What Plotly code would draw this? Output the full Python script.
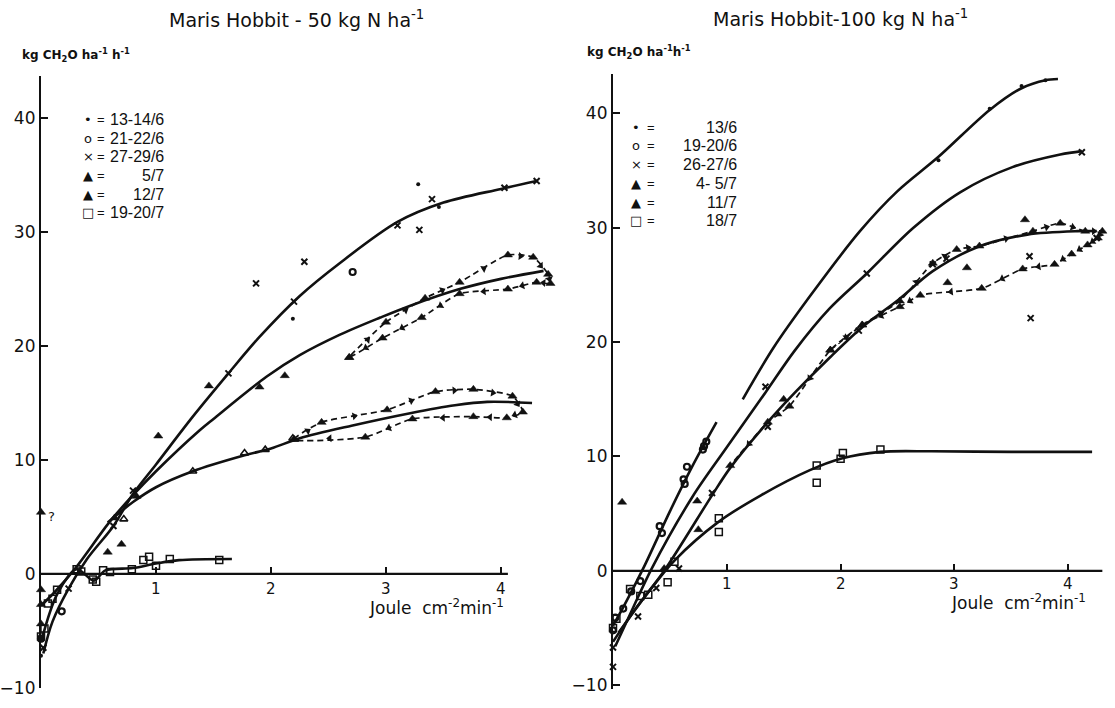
import plotly.graph_objects as go

# ---------------- left panel: 50 kg N ha-1 ----------------
# fitted response curves
l_fit_a_x = [0.02, 0.1, 0.24, 0.4, 0.63, 0.8, 1.0, 1.32, 1.63, 1.9, 2.25, 2.6, 3.1, 3.5, 4.0, 4.31]
l_fit_a_y = [-7.0, -4.2, -1.3, 1.3, 4.2, 7.0, 9.6, 13.8, 17.6, 20.8, 24.4, 27.3, 30.9, 32.6, 33.8, 34.5]
l_fit_b_x = [0.0, 0.12, 0.3, 0.6, 0.8, 1.0, 1.38, 1.5, 1.96, 2.25, 2.6, 2.95, 3.2, 3.64, 4.0, 4.37]
l_fit_b_y = [-2.8, -1.6, 0.5, 4.6, 6.9, 9.0, 12.6, 13.6, 17.3, 19.2, 21.0, 22.5, 23.5, 25.0, 25.9, 26.6]
l_fit_c_x = [0.58, 0.8, 1.0, 1.32, 1.77, 2.0, 2.25, 2.7, 3.21, 3.6, 3.88, 4.27]
l_fit_c_y = [4.5, 6.3, 7.6, 9.0, 10.4, 11.0, 11.9, 13.0, 14.1, 14.8, 15.1, 15.0]
l_fit_d_x = [0.0, 0.14, 0.31, 0.46, 0.56, 0.8, 1.0, 1.2, 1.66]
l_fit_d_y = [-6.0, -1.8, 0.4, -0.6, 0.3, 0.5, 0.9, 1.2, 1.3]

# hysteresis loops (order of measurement)
l_loop_up_x = [2.68, 3.0, 3.34, 3.64, 4.06, 4.28, 4.41, 4.43, 4.31, 4.06, 3.64, 3.31, 2.97, 2.68]
l_loop_up_y = [19.0, 22.1, 24.2, 25.6, 28.0, 27.8, 26.3, 25.5, 25.6, 25.0, 24.6, 22.5, 20.7, 19.0]
l_loop_lo_x = [2.2, 2.44, 3.01, 3.43, 3.76, 4.1, 4.19, 4.05, 3.76, 3.23, 2.82, 2.2]
l_loop_lo_y = [11.8, 13.3, 14.4, 16.0, 16.2, 15.6, 14.2, 13.7, 13.8, 13.6, 12.0, 11.8]

# observations
l_d1_x = [3.28, 3.46, 2.19, 0.0]            # 13-14/6
l_d1_y = [34.2, 32.2, 22.4, -7.2]
l_d2_x = [2.71, 0.18, 0.0]                   # 21-22/6
l_d2_y = [26.5, -3.3, -5.7]
l_d3_x = [0.02, 0.24, 0.63, 0.8, 1.63, 1.87, 2.2, 2.29, 3.1, 3.29, 3.4, 4.03, 4.31]   # 27-29/6
l_d3_y = [-6.5, -1.3, 4.2, 7.3, 17.6, 25.5, 23.9, 27.4, 30.6, 30.2, 32.9, 33.9, 34.5]
l_d4_x = [0.0, 0.0, 0.0, 0.0, 0.58, 0.7, 0.83, 1.02, 1.46, 1.9, 2.12, 0.64]   # 5/7
l_d4_y = [5.4, -1.4, -2.7, -4.4, 1.9, 2.6, 6.8, 12.1, 16.5, 16.4, 17.4, 4.9]
l_d5_x = [0.72, 1.32, 1.77, 1.95, 2.19]     # 12/7
l_d5_y = [4.8, 9.0, 10.6, 10.9, 11.9]
l_d6_x = [0.0, 0.03, 0.06, 0.1, 0.14, 0.31, 0.35, 0.45, 0.48, 0.54, 0.6, 0.79, 0.89, 0.94, 1.0, 1.12, 1.55]   # 19-20/7
l_d6_y = [-5.5, -4.8, -2.6, -2.2, -1.4, 0.4, 0.2, -0.5, -0.7, 0.3, 0.15, 0.4, 1.2, 1.5, 0.7, 1.3, 1.2]

# ---------------- right panel: 100 kg N ha-1 ----------------
r_fit_1_x = [1.14, 1.41, 1.73, 2.17, 2.5, 2.86, 3.31, 3.59, 3.8, 3.91]
r_fit_1_y = [15.0, 19.5, 24.0, 29.7, 33.2, 36.2, 40.3, 42.2, 42.9, 43.0]
r_fit_o_x = [0.0, 0.1, 0.27, 0.5, 0.7, 0.91]
r_fit_o_y = [-4.8, -3.0, 0.3, 5.2, 9.2, 13.0]
r_fit_2_x = [0.02, 0.15, 0.34, 0.7, 1.0, 1.34, 1.6, 1.9, 2.23, 2.64, 3.05, 3.51, 3.93, 4.12]
r_fit_2_y = [-6.6, -3.8, 0.2, 6.5, 10.8, 15.6, 19.3, 22.9, 26.0, 30.0, 33.1, 35.3, 36.4, 36.7]
r_fit_3_x = [0.0, 0.2, 0.45, 0.87, 1.03, 1.36, 1.6, 1.91, 2.19, 2.52, 2.81, 3.2, 3.64, 4.08, 4.25]
r_fit_3_y = [-6.2, -3.3, 0.0, 6.6, 9.0, 13.0, 15.6, 18.7, 21.3, 23.8, 26.2, 28.3, 29.4, 29.7, 29.7]
r_fit_4_x = [0.05, 0.3, 0.54, 0.93, 1.3, 1.73, 2.0, 2.35, 2.8, 3.5, 4.21]
r_fit_4_y = [-5.4, -2.0, 0.9, 4.3, 6.6, 8.8, 9.8, 10.4, 10.45, 10.4, 10.4]

r_loop_x = [1.91, 2.19, 2.52, 2.81, 3.02, 3.22, 3.69, 3.93, 4.15, 4.3, 4.26, 4.17, 4.03, 3.88, 3.6, 3.24, 2.7, 2.52, 2.19, 1.91, 1.55, 1.36, 1.03]
r_loop_y = [19.3, 21.5, 23.6, 26.9, 28.1, 28.4, 29.7, 30.4, 29.7, 29.7, 29.1, 28.5, 27.7, 26.8, 26.4, 24.7, 24.1, 23.1, 21.5, 19.3, 14.4, 13.0, 9.2]

r_d1_x = [2.86, 3.31, 3.59, 3.8]            # 13/6
r_d1_y = [35.9, 40.4, 42.4, 42.9]
r_d2_x = [0.41, 0.43, 0.62, 0.63, 0.65, 0.79, 0.8, 0.82, 0.24, 0.16, 0.09, 0.02, 0.0]   # 19-20/6
r_d2_y = [3.9, 3.3, 8.0, 7.6, 9.1, 10.6, 10.9, 11.3, -0.9, -1.8, -3.3, -4.1, -5.2]
r_d3_x = [0.0, 0.0, 0.22, 0.38, 0.58, 0.87, 1.36, 1.34, 2.23, 4.12, 2.16, 2.81, 2.93, 3.66, 3.67, 4.25]   # 26-27/6
r_d3_y = [-8.4, -6.7, -4.0, -1.5, 0.2, 6.8, 12.6, 16.1, 26.0, 36.6, 21.0, 26.8, 27.3, 27.5, 22.1, 29.1]
r_d4_x = [0.08, 0.74, 0.75, 0.45, 1.5, 3.62, 3.11, 2.94]   # 4-5/7
r_d4_y = [6.0, 6.1, 3.6, 0.2, 15.0, 30.7, 26.5, 25.2]
r_d6_x = [0.54, 0.93, 0.93, 1.79, 1.79, 2.0, 2.02, 2.35, 0.48, 0.31, 0.15, 0.24, 0.03, 0.0]   # 18/7
r_d6_y = [0.8, 4.6, 3.4, 9.2, 7.7, 9.8, 10.3, 10.6, -1.0, -2.1, -1.6, -2.2, -4.2, -5.0]

# axis ticks and legend text
x_ticks = [1, 2, 3, 4]
y_ticks = [-10, 0, 10, 20, 30, 40]
l_legend_dates = ["13-14/6", "21-22/6", "27-29/6", "5/7", "12/7", "19-20/7"]
r_legend_dates = ["13/6", "19-20/6", "26-27/6", "4- 5/7", "11/7", "18/7"]
legend_symbols_l = ["•", "o", "×", "▲", "▲", "□"]
legend_symbols_r = ["•", "o", "×", "▲", "▲", "□"]

W, H = 1115, 708
INK = "#111111"
FONT = "DejaVu Sans"
FONT_NARROW = "Liberation Sans"

fig = go.Figure()


def curve(x, y, xa, ya, width=2.6):
    fig.add_trace(go.Scatter(x=x, y=y, xaxis=xa, yaxis=ya, mode="lines",
                             line=dict(color=INK, width=width, shape="spline", smoothing=0.9),
                             hoverinfo="skip", showlegend=False))


def points(x, y, xa, ya, symbol, size, lw=1.5):
    fig.add_trace(go.Scatter(x=x, y=y, xaxis=xa, yaxis=ya, mode="markers", cliponaxis=False,
                             marker=dict(symbol=symbol, size=size, color=INK,
                                         line=dict(color=INK, width=lw)),
                             hoverinfo="skip", showlegend=False))


def loop(x, y, xa, ya):
    # dashed path through the triangles, with arrowheads half-way along each leg
    fig.add_trace(go.Scatter(x=x, y=y, xaxis=xa, yaxis=ya, mode="lines",
                             line=dict(color=INK, width=1.7, dash="6px,4px", shape="spline", smoothing=0.6),
                             hoverinfo="skip", showlegend=False))
    ax, ay, op = [], [], []
    for i in range(len(x) - 1):
        ax += [x[i], (x[i] + x[i + 1]) / 2]
        ay += [y[i], (y[i] + y[i + 1]) / 2]
        op += [0, 1]
    fig.add_trace(go.Scatter(x=ax, y=ay, xaxis=xa, yaxis=ya, mode="markers", cliponaxis=False,
                             marker=dict(symbol="triangle-up", size=7, color=INK, opacity=op,
                                         angleref="previous"),
                             hoverinfo="skip", showlegend=False))
    points(x, y, xa, ya, "triangle-up", 8, 0.5)


# left panel
for fx, fy in [(l_fit_a_x, l_fit_a_y), (l_fit_b_x, l_fit_b_y), (l_fit_c_x, l_fit_c_y), (l_fit_d_x, l_fit_d_y)]:
    curve(fx, fy, "x", "y")
loop(l_loop_up_x, l_loop_up_y, "x", "y")
loop(l_loop_lo_x, l_loop_lo_y, "x", "y")
points(l_d1_x, l_d1_y, "x", "y", "circle", 4, 0)
points(l_d2_x, l_d2_y, "x", "y", "circle-open", 6, 2.2)
points(l_d3_x, l_d3_y, "x", "y", "x-thin-open", 6, 2)
points(l_d4_x, l_d4_y, "x", "y", "triangle-up", 8, 0.5)
points(l_d5_x, l_d5_y, "x", "y", "triangle-up-open", 7, 1.6)
points(l_d6_x, l_d6_y, "x", "y", "square-open", 7, 1.5)

# right panel
for fx, fy in [(r_fit_1_x, r_fit_1_y), (r_fit_o_x, r_fit_o_y), (r_fit_2_x, r_fit_2_y),
               (r_fit_3_x, r_fit_3_y), (r_fit_4_x, r_fit_4_y)]:
    curve(fx, fy, "x2", "y2")
loop(r_loop_x, r_loop_y, "x2", "y2")
points(r_d1_x, r_d1_y, "x2", "y2", "circle", 4, 0)
points(r_d2_x, r_d2_y, "x2", "y2", "circle-open", 6, 2.2)
points(r_d3_x, r_d3_y, "x2", "y2", "x-thin-open", 6, 2)
points(r_d4_x, r_d4_y, "x2", "y2", "triangle-up", 8, 0.5)
points(r_d6_x, r_d6_y, "x2", "y2", "square-open", 7, 1.5)

common_y = dict(showline=True, linewidth=2.2, linecolor=INK, ticks="inside", ticklen=7, tickwidth=2,
                tickcolor=INK, tickvals=y_ticks, showgrid=False, zeroline=False,
                ticklabeloverflow="allow",
                tickfont=dict(family=FONT, size=17, color=INK), fixedrange=True)
# x ticks point up from the y = 0 line; their numbers are placed as annotations below
common_x = dict(showline=False, ticks="inside", ticklen=7, tickwidth=2, tickcolor=INK,
                tickvals=x_ticks, showticklabels=False, showgrid=False, zeroline=False,
                anchor="free", fixedrange=True)

# pixel layout of both panels
L_X0, L_UNIT_X = 41, 115.0
L_Y0, L_UNIT_Y = 582, 11.55
R_X0, R_UNIT_X = 613, 113.8
R_Y0, R_UNIT_Y = 579, 11.6
l_xr, l_yr = [0, 4.45], [-10, 43.7]
r_xr, r_yr = [0, 4.4], [-10.3, 43.4]


def xdom(x0, unit, rng):
    return [(x0 + rng[0] * unit) / W, (x0 + rng[1] * unit) / W]


def ydom(y0, unit, rng):
    lo = 1 - (y0 - rng[0] * unit) / H
    hi = 1 - (y0 - rng[1] * unit) / H
    return [max(lo, 0.0), min(hi, 1.0)]


fig.update_layout(
    width=W, height=H, margin=dict(l=0, r=0, t=0, b=0),
    paper_bgcolor="white", plot_bgcolor="rgba(0,0,0,0)",
    font=dict(family=FONT, color=INK),
    showlegend=False,
    xaxis=dict(common_x, domain=xdom(L_X0, L_UNIT_X, l_xr), range=l_xr, position=1 - L_Y0 / H),
    yaxis=dict(common_y, domain=ydom(L_Y0, L_UNIT_Y, l_yr), range=l_yr, anchor="x"),
    xaxis2=dict(common_x, domain=xdom(R_X0, R_UNIT_X, r_xr), range=r_xr, position=1 - R_Y0 / H),
    yaxis2=dict(common_y, domain=ydom(R_Y0, R_UNIT_Y, r_yr), range=r_yr, anchor="x2"),
)

# x axes drawn along y = 0
fig.add_shape(type="line", xref="x", yref="y", x0=0, x1=4.06, y0=0, y1=0, line=dict(color=INK, width=2.2))
fig.add_shape(type="line", xref="x2", yref="y2", x0=0, x1=4.3, y0=0, y1=0, line=dict(color=INK, width=2.2))

# numbers under the x ticks
for xa, ya, shift in [("x", "y", -4), ("x2", "y2", -2)]:
    for v in x_ticks:
        fig.add_annotation(x=v, y=0, xref=xa, yref=ya, text=str(v), showarrow=False,
                           xanchor="center", yanchor="top", yshift=shift,
                           font=dict(family=FONT, size=15, color=INK))


def ptext(px, py, text, size, xanchor="center", yanchor="middle", family=FONT):
    fig.add_annotation(x=px / W, y=1 - py / H, xref="paper", yref="paper", text=text, showarrow=False,
                       xanchor=xanchor, yanchor=yanchor, font=dict(family=family, size=size, color=INK))


ptext(296, 19, "Maris Hobbit - 50 kg N ha<sup>-1</sup>", 19)
ptext(840, 18, "Maris Hobbit-100 kg N ha<sup>-1</sup>", 19)
ptext(20, 56, "<b>kg CH<sub>2</sub>O ha<sup>-1</sup> h<sup>-1</sup></b>", 12, xanchor="left")
ptext(585, 53, "<b>kg CH<sub>2</sub>O ha<sup>-1</sup>h<sup>-1</sup></b>", 12, xanchor="left")
ptext(506, 616, "Joule  cm<sup>-2</sup>min<sup>-1</sup>", 17, xanchor="right")
ptext(1088, 611, "Joule  cm<sup>-2</sup>min<sup>-1</sup>", 17, xanchor="right")

# legends
for i, (sym, lab) in enumerate(zip(legend_symbols_l, l_legend_dates)):
    py = 121 + i * 19
    ptext(88, py, sym, 13)
    ptext(101, py, "=", 13, family=FONT_NARROW)
    ptext(166, py, lab, 16, xanchor="right", family=FONT_NARROW)
for i, (sym, lab) in enumerate(zip(legend_symbols_r, r_legend_dates)):
    py = 129 + i * 19
    ptext(636, py, sym, 13)
    ptext(651, py, "=", 13, family=FONT_NARROW)
    ptext(739, py, lab, 16, xanchor="right", family=FONT_NARROW)

# doubtful reading
fig.add_annotation(x=0.04, y=5.0, xref="x", yref="y", text="?", showarrow=False, xanchor="left",
                   font=dict(family=FONT, size=13, color=INK))

fig.write_html("out.html")
